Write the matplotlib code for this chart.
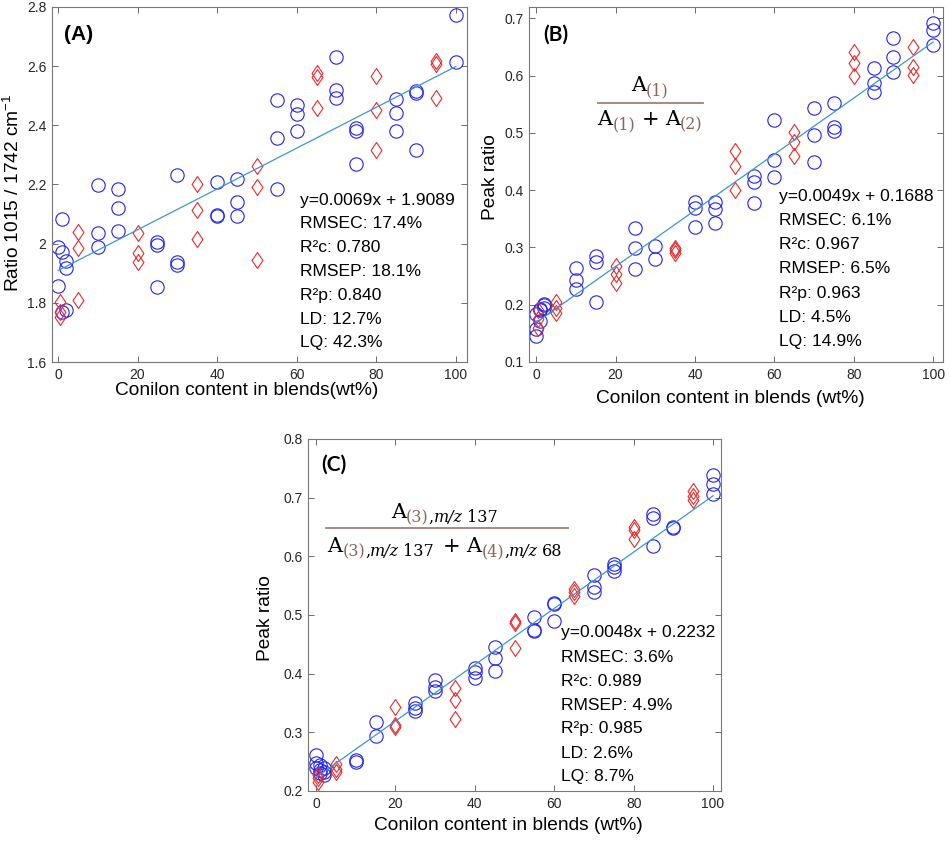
import numpy as np
import matplotlib
matplotlib.use("Agg")
import matplotlib.pyplot as plt
from matplotlib.path import Path
from matplotlib.transforms import IdentityTransform

plt.rcParams['font.family'] = ['Liberation Sans', 'DejaVu Sans']
plt.rcParams['mathtext.fontset'] = 'custom'
plt.rcParams['mathtext.rm'] = 'Liberation Sans'
plt.rcParams['mathtext.it'] = 'Liberation Sans:italic'
plt.rcParams['mathtext.bf'] = 'Liberation Sans:bold'

# ---------------- data ----------------
a_cal_x = [0, 0, 1, 1, 1, 2, 2, 2, 10, 10, 10, 15, 15, 15, 25, 25, 25, 30, 30, 30,
           40, 40, 40, 45, 45, 45, 55, 55, 55, 60, 60, 60, 70, 70, 70, 75, 75, 75,
           85, 85, 85, 90, 90, 90, 100, 100]
a_cal_y = [1.99, 1.856, 2.085, 1.973, 1.768, 1.943, 1.918, 1.776, 2.197, 2.037, 1.99,
           2.186, 2.121, 2.042, 2.007, 1.995, 1.853, 2.232, 1.939, 1.927,
           2.207, 2.097, 2.095, 2.218, 2.142, 2.092, 2.486, 2.356, 2.186,
           2.468, 2.44, 2.381, 2.630, 2.519, 2.492, 2.392, 2.381, 2.27,
           2.489, 2.443, 2.381, 2.515, 2.509, 2.317, 2.774, 2.615]
a_val_x = [0.5, 0.5, 0.5, 5, 5, 5, 20, 20, 20, 35, 35, 35, 50, 50, 50,
           65, 65, 65, 80, 80, 80, 95, 95, 95]
a_val_y = [1.803, 1.77, 1.753, 2.04, 1.984, 1.809, 2.035, 1.968, 1.937,
           2.203, 2.113, 2.017, 2.262, 2.192, 1.945, 2.577, 2.562, 2.46,
           2.566, 2.451, 2.317, 2.617, 2.608, 2.491]
a_fit = (0.0069, 1.9089)
a_stats = ["y=0.0069x + 1.9089", "RMSEC: 17.4%", "R²c: 0.780", "RMSEP: 18.1%",
           "R²p: 0.840", "LD: 12.7%", "LQ: 42.3%"]

b_cal_x = [0, 0, 0, 1, 1, 1, 2, 2, 2, 10, 10, 10, 15, 15, 15, 25, 25, 25, 30, 30,
           40, 40, 40, 45, 45, 45, 55, 55, 55, 60, 60, 60, 70, 70, 70, 75, 75, 75,
           85, 85, 85, 90, 90, 90, 100, 100, 100]
b_cal_y = [0.183, 0.157, 0.146, 0.193, 0.190, 0.171, 0.202, 0.199, 0.195,
           0.264, 0.244, 0.227, 0.285, 0.274, 0.205, 0.334, 0.299, 0.262, 0.302, 0.280,
           0.379, 0.369, 0.336, 0.379, 0.367, 0.342, 0.424, 0.415, 0.377,
           0.522, 0.452, 0.423, 0.543, 0.497, 0.449, 0.553, 0.511, 0.504,
           0.614, 0.587, 0.572, 0.665, 0.632, 0.607, 0.692, 0.680, 0.654]
b_val_x = [0.5, 0.5, 0.5, 5, 5, 5, 20, 20, 20, 35, 35, 35, 50, 50, 50,
           65, 65, 65, 80, 80, 80, 95, 95, 95]
b_val_y = [0.190, 0.175, 0.160, 0.205, 0.195, 0.185, 0.267, 0.253, 0.238,
           0.299, 0.295, 0.291, 0.469, 0.442, 0.400, 0.501, 0.485, 0.460,
           0.642, 0.623, 0.600, 0.651, 0.616, 0.601]
b_fit = (0.0049, 0.1688)
b_stats = ["y=0.0049x + 0.1688", "RMSEC: 6.1%", "R²c: 0.967", "RMSEP: 6.5%",
           "R²p: 0.963", "LD: 4.5%", "LQ: 14.9%"]

c_cal_x = [0, 0, 0, 1, 1, 1, 2, 2, 2, 10, 10, 15, 15, 25, 25, 25, 30, 30, 30,
           40, 40, 40, 45, 45, 45, 55, 55, 55, 60, 60, 60, 70, 70, 70, 75, 75, 75,
           85, 85, 85, 90, 90, 100, 100, 100]
c_cal_y = [0.262, 0.247, 0.239, 0.244, 0.236, 0.230, 0.240, 0.233, 0.228,
           0.253, 0.249, 0.318, 0.293, 0.350, 0.342, 0.336, 0.390, 0.377, 0.370,
           0.410, 0.402, 0.393, 0.446, 0.426, 0.405, 0.497, 0.475, 0.473,
           0.521, 0.518, 0.490, 0.568, 0.548, 0.539, 0.587, 0.582, 0.575,
           0.673, 0.666, 0.617, 0.650, 0.649, 0.739, 0.723, 0.707]
c_val_x = [0.5, 0.5, 0.5, 5, 5, 5, 20, 20, 20, 35, 35, 35, 50, 50, 50,
           65, 65, 65, 80, 80, 80, 95, 95, 95]
c_val_y = [0.228, 0.222, 0.215, 0.246, 0.238, 0.233, 0.344, 0.312, 0.309,
           0.375, 0.355, 0.323, 0.489, 0.487, 0.444, 0.545, 0.539, 0.533,
           0.650, 0.645, 0.630, 0.711, 0.703, 0.696]
c_fit = (0.0048, 0.2232)
c_stats = ["y=0.0048x + 0.2232", "RMSEC: 3.6%", "R²c: 0.989", "RMSEP: 4.9%",
           "R²p: 0.985", "LD: 2.6%", "LQ: 8.7%"]

x_ticks = [0, 20, 40, 60, 80, 100]
a_yticks = [1.6, 1.8, 2.0, 2.2, 2.4, 2.6, 2.8]
a_ylabels = ["1.6", "1.8", "2", "2.2", "2.4", "2.6", "2.8"]
b_yticks = [0.1, 0.2, 0.3, 0.4, 0.5, 0.6, 0.7]
b_ylabels = ["0.1", "0.2", "0.3", "0.4", "0.5", "0.6", "0.7"]
c_yticks = [0.2, 0.3, 0.4, 0.5, 0.6, 0.7, 0.8]
c_ylabels = ["0.2", "0.3", "0.4", "0.5", "0.6", "0.7", "0.8"]

# ---------------- figure ----------------
W, H = 950, 843
fig = plt.figure(figsize=(W / 100, H / 100), dpi=100)


def box(l, t, r, b):
    return [l / W, 1 - b / H, (r - l) / W, (b - t) / H]


ax_a = fig.add_axes(box(52, 7, 467, 362))
ax_b = fig.add_axes(box(529, 7, 943, 362))
ax_c = fig.add_axes(box(308, 439, 721, 791))

diamond = Path([(0, 1), (0.68, 0), (0, -1), (-0.68, 0), (0, 1)],
               [Path.MOVETO, Path.LINETO, Path.LINETO, Path.LINETO, Path.CLOSEPOLY])

BLUE = '#2323f5'
RED = '#ea2a2a'
LINE = '#3d96cf'


def panel(ax, cx, cy, vx, vy, fit, xlim, ylim, yt, yl):
    ax.plot(cx, cy, linestyle='none', marker='o', ms=9.6, mfc='none', mec=BLUE, mew=0.8)
    ax.plot(vx, vy, linestyle='none', marker=diamond, ms=11.5, mfc='none', mec=RED, mew=0.8)
    fx = np.array([0, 100])
    ax.plot(fx, fit[0] * fx + fit[1], color=LINE, lw=0.9)
    ax.set_xlim(*xlim)
    ax.set_ylim(*ylim)
    ax.set_xticks(x_ticks)
    ax.set_xticklabels([str(t) for t in x_ticks])
    ax.set_yticks(yt)
    ax.set_yticklabels(yl)
    ax.tick_params(direction='in', top=True, right=True, length=4, width=0.6,
                   color='#555555', labelcolor='#262626', labelsize=10, pad=4)
    for s in ax.spines.values():
        s.set_color('#777777')
        s.set_linewidth(0.8)


panel(ax_a, a_cal_x, a_cal_y, a_val_x, a_val_y, a_fit, (-1.5, 102.8), (1.6, 2.8), a_yticks, a_ylabels)
panel(ax_b, b_cal_x, b_cal_y, b_val_x, b_val_y, b_fit, (-1.8, 102.5), (0.1, 0.72), b_yticks, b_ylabels)
panel(ax_c, c_cal_x, c_cal_y, c_val_x, c_val_y, c_fit, (-2, 102), (0.2, 0.8), c_yticks, c_ylabels)


def ftext(x, y, s, **kw):
    return fig.text(x / W, 1 - y / H, s, **kw)


# axis labels
LS = 13.8
ftext(247, 391, "Conilon content in blends(wt%)", ha='center', va='center', fontsize=LS)
ftext(730, 398, "Conilon content in blends (wt%)", ha='center', va='center', fontsize=LS)
ftext(508, 826, "Conilon content in blends (wt%)", ha='center', va='center', fontsize=LS)
ftext(13, 193, "Ratio 1015 / 1742 cm$^{-1}$", ha='center', va='center', rotation=90, fontsize=LS)
ftext(490, 177, "Peak ratio", ha='center', va='center', rotation=90, fontsize=LS)
ftext(266, 618, "Peak ratio", ha='center', va='center', rotation=90, fontsize=LS)

# panel letters
ftext(79, 34, "(A)", ha='center', va='center', fontsize=15, fontweight='bold')
ftext(556, 35, "(B)", ha='center', va='center', fontsize=15, fontweight='bold', family=['Lato', 'DejaVu Sans'])
ftext(334, 465, "(C)", ha='center', va='center', fontsize=15, fontweight='bold', family=['Lato', 'DejaVu Sans'])

# stats
for x0, y0, dy, lines in [(300, 200, 23.8, a_stats), (779, 196, 24.3, b_stats), (561, 633, 24.0, c_stats)]:
    for i, s in enumerate(lines):
        ftext(x0, y0 + i * dy, s, ha='left', va='center', fontsize=12.6, color='black')

# ---------------- fractions ----------------
renderer = fig.canvas.get_renderer()
BROWN = '#8a675c'
SERIF = ['DejaVu Serif']
BIG = dict(fontsize=15, family=SERIF, color='black')
SUBB = dict(fontsize=11.5, family=SERIF, color=BROWN)
SUBK = dict(fontsize=11.5, family=SERIF, color='black')
SUBI = dict(fontsize=11.5, family=SERIF, color='black', style='italic')


def draw_pieces(pieces, cx, base_y):
    arts = []
    total = 0
    for j, (s, props, dy, gap) in enumerate(pieces):
        t = fig.text(0, 0, s, transform=IdentityTransform(), ha='left', va='baseline', **props)
        w = t.get_window_extent(renderer).width
        arts.append((t, dy, w + gap))
        total += w + (gap if j < len(pieces) - 1 else 0)
    x = cx - total / 2
    for t, dy, step in arts:
        t.set_position((x, H - base_y - dy))
        x += step


def hline(x1, x2, y):
    fig.add_artist(plt.Line2D([x1 / W, x2 / W], [1 - y / H, 1 - y / H],
                              transform=fig.transFigure, color='#a08078', lw=1.3))


SD = 4  # subscript drop in px
# panel B
draw_pieces([("A", BIG, 0, 0), ("(1)", SUBB, SD, 0)], 650, 91)
hline(598, 703, 103)
draw_pieces([("A", BIG, 0, 0), ("(1)", SUBB, SD, 6), ("+", BIG, 0, 6),
             ("A", BIG, 0, 0), ("(2)", SUBB, SD, 0)], 650, 125)
# panel C
draw_pieces([("A", BIG, 0, 0), ("(3)", SUBB, SD, 0), (",", SUBK, SD, 0),
             ("m/z", SUBI, SD, 4), ("137", SUBK, SD, 0)], 444, 518)
hline(326, 568, 528)
draw_pieces([("A", BIG, 0, 0), ("(3)", SUBB, SD, 0), (",", SUBK, SD, 0),
             ("m/z", SUBI, SD, 4), ("137", SUBK, SD, 9), ("+", BIG, 0, 6),
             ("A", BIG, 0, 0), ("(4)", SUBB, SD, 0), (",", SUBK, SD, 0),
             ("m/z", SUBI, SD, 4), ("68", SUBK, SD, 0)], 445, 552)

fig.savefig("out.png", dpi=100)
